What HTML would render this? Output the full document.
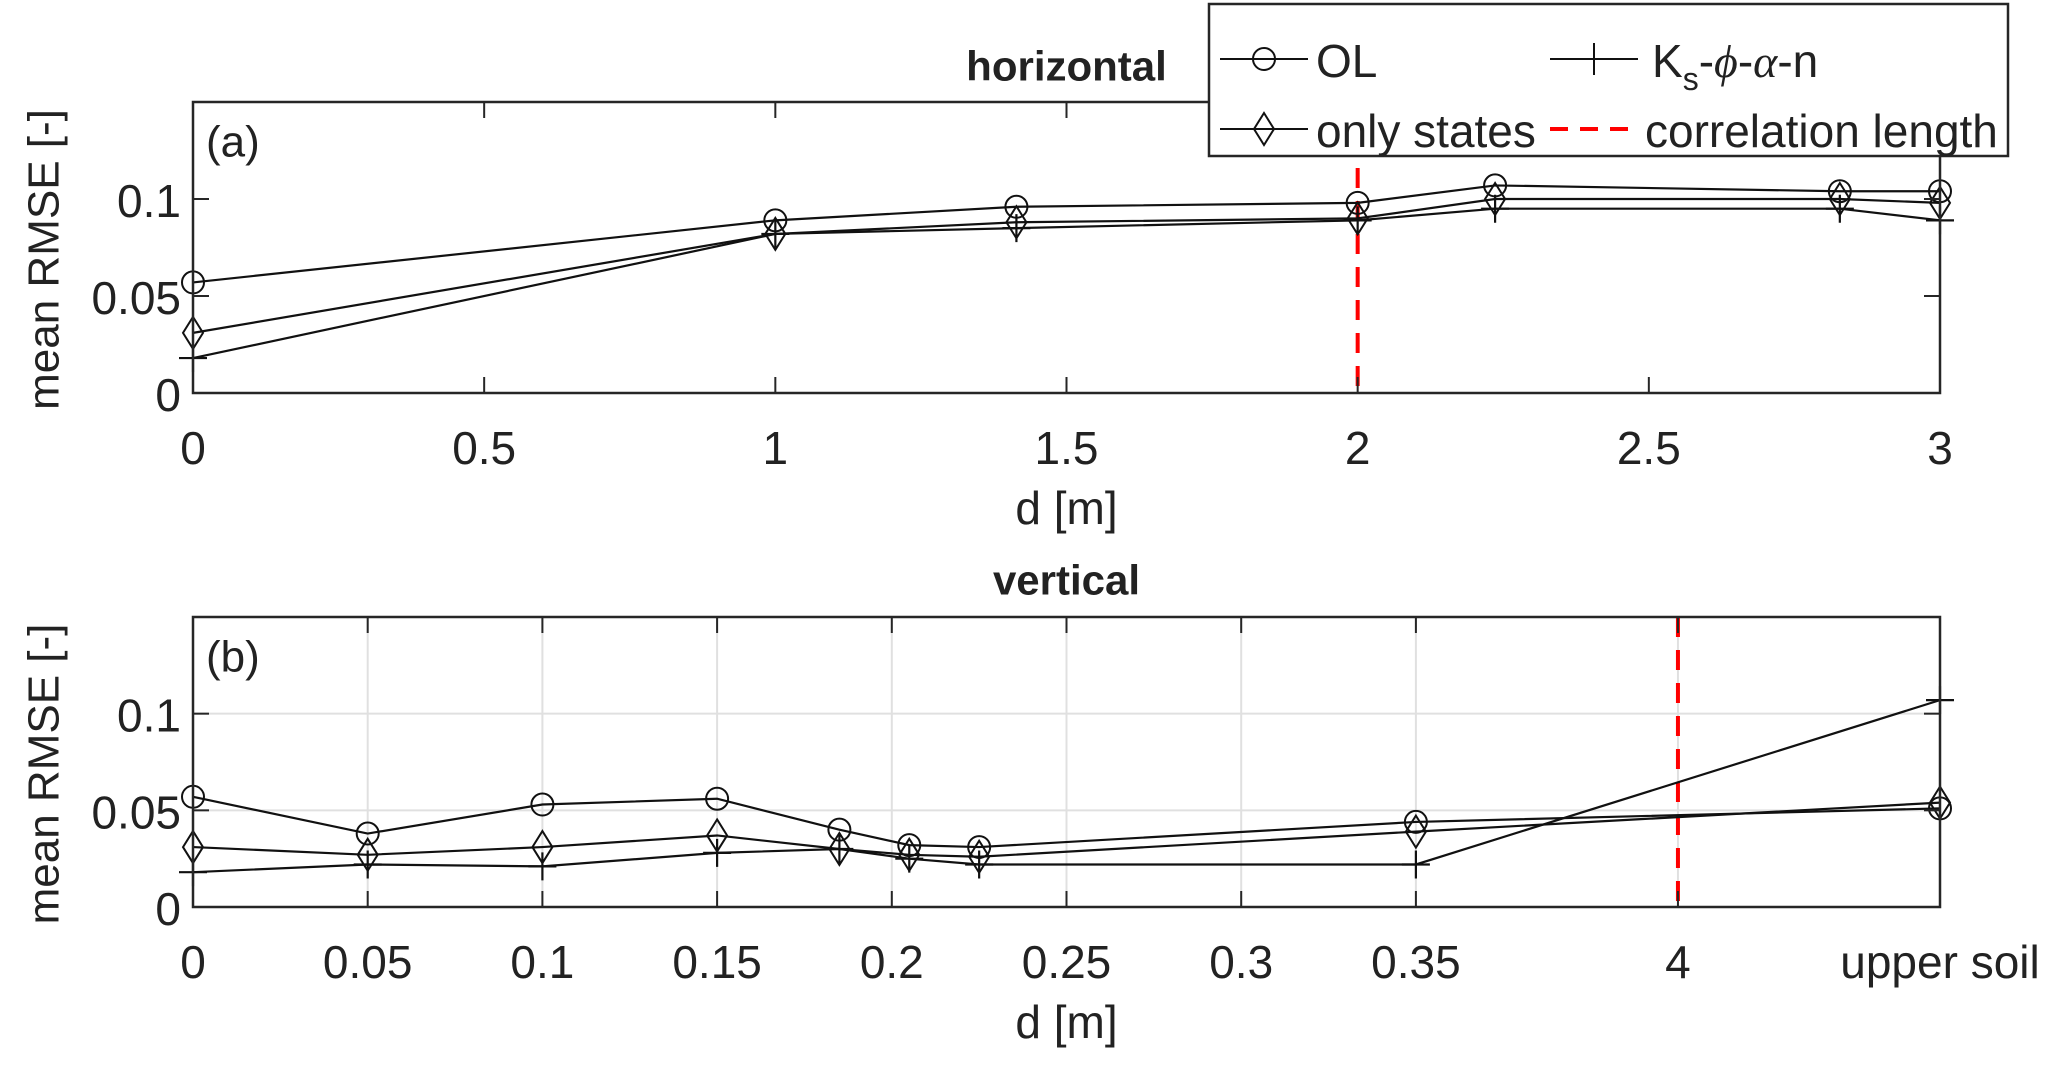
<!DOCTYPE html>
<html><head><meta charset="utf-8"><style>
html,body{margin:0;padding:0;background:#fff;}
svg{display:block;font-family:"Liberation Sans",sans-serif;}
</style></head><body>
<svg id="chart" width="2067" height="1067" viewBox="0 0 2067 1067" xmlns="http://www.w3.org/2000/svg"></svg>
<script>
// ---- panel (a) data ----
const aX = [0, 1, 1.414, 2, 2.236, 2.828, 3];
const aOL = [0.057, 0.089, 0.096, 0.098, 0.107, 0.104, 0.104];
const aStates = [0.031, 0.082, 0.088, 0.090, 0.100, 0.100, 0.098];
const aKs = [0.018, 0.082, 0.085, 0.089, 0.095, 0.095, 0.089];
const aXTicks = [0, 0.5, 1, 1.5, 2, 2.5, 3];
const aXTickLabels = ["0", "0.5", "1", "1.5", "2", "2.5", "3"];
const aCorr = 2;
// ---- panel (b) data ----
const bX = [0, 0.05, 0.1, 0.15, 0.185, 0.205, 0.225, 0.35, 0.5];
const bOL = [0.057, 0.038, 0.053, 0.056, 0.040, 0.032, 0.031, 0.044, 0.051];
const bStates = [0.031, 0.027, 0.031, 0.037, 0.030, 0.027, 0.026, 0.039, 0.054];
const bKs = [0.018, 0.022, 0.021, 0.028, 0.030, 0.025, 0.022, 0.022, 0.107];
const bXTicks = [0, 0.05, 0.1, 0.15, 0.2, 0.25, 0.3, 0.35, 0.425, 0.5];
const bXTickLabels = ["0", "0.05", "0.1", "0.15", "0.2", "0.25", "0.3", "0.35", "4", "upper soil"];
const bCorr = 0.425;
const yTicks = [0, 0.05, 0.1];
const yTickLabels = ["0", "0.05", "0.1"];

const NS = "http://www.w3.org/2000/svg";
const svg = document.getElementById("chart");
function el(tag, attrs, parent) {
  const e = document.createElementNS(NS, tag);
  for (const k in attrs) e.setAttribute(k, attrs[k]);
  (parent || svg).appendChild(e);
  return e;
}
function txt(s, x, y, size, parent, anchor, weight) {
  const t = el("text", {x: x, y: y, "font-size": size, "text-anchor": anchor || "middle", "dominant-baseline": "central", fill: "#222", "font-weight": weight || "normal"}, parent);
  t.textContent = s;
  return t;
}

function panel(cfg) {
  const g = el("g", {});
  
  
  const L = 193, R = 1940, T = cfg.top, B = cfg.bottom;
  const xs = v => L + (v - cfg.xmin) / (cfg.xmax - cfg.xmin) * (R - L);
  const ys = v => B - v / 0.15 * (B - T);
  if (cfg.grid) {
    cfg.xTicks.forEach(v => {
      const ln = el("line", {x1: xs(v), x2: xs(v), y1: T, y2: B, stroke: "#e0e0e0", "stroke-width": 2}, g);
      
      
    });
    yTicks.forEach(v => {
      const ln = el("line", {x1: L, x2: R, y1: ys(v), y2: ys(v), stroke: "#e0e0e0", "stroke-width": 2}, g);
      
      
    });
  }
  const cl = el("line", {x1: xs(cfg.corr), x2: xs(cfg.corr), y1: T, y2: B, stroke: "#ff0000", "stroke-width": 4, "stroke-dasharray": "20 13"}, g);
  
  
  const series = [[cfg.ks, "plus", "ks-series"], [cfg.st, "diamond", "only-states-series"], [cfg.ol, "circle", "ol-series"]];
  series.forEach(([vals, mk, nm]) => {
    const sg = el("g", {}, g);
    
    
    const pts = vals.map((v, i) => xs(cfg.x[i]) + "," + ys(v)).join(" ");
    el("polyline", {points: pts, fill: "none", stroke: "#111", "stroke-width": 2.2}, sg);
    vals.forEach((v, i) => {
      const cx = xs(cfg.x[i]), cy = ys(v);
      let m;
      if (mk === "circle") m = el("circle", {cx: cx, cy: cy, r: 11, fill: "none", stroke: "#111", "stroke-width": 2}, sg);
      else if (mk === "diamond") m = el("polygon", {points: `${cx},${cy-16} ${cx+10},${cy} ${cx},${cy+16} ${cx-10},${cy}`, fill: "none", stroke: "#111", "stroke-width": 2}, sg);
      else m = el("path", {d: `M${cx-14},${cy}H${cx+14}M${cx},${cy-14}V${cy+14}`, stroke: "#111", "stroke-width": 2.2}, sg);
      
      
    });
  });
  const box = el("rect", {x: L, y: T, width: R - L, height: B - T, fill: "none", stroke: "#262626", "stroke-width": 2.5}, g);
  
  
  cfg.xTicks.forEach((v, i) => {
    el("line", {x1: xs(v), x2: xs(v), y1: B, y2: B - 16, stroke: "#262626", "stroke-width": 2}, g);
    el("line", {x1: xs(v), x2: xs(v), y1: T, y2: T + 16, stroke: "#262626", "stroke-width": 2}, g);
    const t = txt(cfg.xLabels[i], xs(v), cfg.tickY, 46, g);
    
    
  });
  yTicks.forEach((v, i) => {
    el("line", {x1: L, x2: L + 16, y1: ys(v), y2: ys(v), stroke: "#262626", "stroke-width": 2}, g);
    el("line", {x1: R, x2: R - 16, y1: ys(v), y2: ys(v), stroke: "#262626", "stroke-width": 2}, g);
    const t = txt(yTickLabels[i], L - 12, ys(v) + 2, 46, g, "end");
    
    
  });
  const pl = txt(cfg.letter, 206, T + 40, 44, g, "start");
  
  
  const ti = txt(cfg.title, (L + R) / 2, cfg.titleY, 42, g, "middle", "bold");
  
  
  const xl = txt("d [m]", (L + R) / 2, cfg.xlabY, 46, g);
  
  
  const yl = txt("mean RMSE [-]", 0, 0, 44, g);
  yl.setAttribute("transform", `translate(44,${(T + B) / 2 + 12}) rotate(-90)`);
  
  
}

panel({name: "panel-horizontal", top: 102, bottom: 393, xmin: 0, xmax: 3, x: aX, ol: aOL, st: aStates, ks: aKs,
  xTicks: aXTicks, xLabels: aXTickLabels, corr: aCorr, grid: false, letter: "(a)", title: "horizontal",
  titleY: 66, tickY: 448, xlabY: 508});
panel({name: "panel-vertical", top: 617, bottom: 907, xmin: 0, xmax: 0.5, x: bX, ol: bOL, st: bStates, ks: bKs,
  xTicks: bXTicks, xLabels: bXTickLabels, corr: bCorr, grid: true, letter: "(b)", title: "vertical",
  titleY: 580, tickY: 962, xlabY: 1022});

const lg = el("g", {});


el("rect", {x: 1209, y: 4, width: 799, height: 152, fill: "#fff", stroke: "#262626", "stroke-width": 2.5}, lg);
function entry(x, y, kind, nm) {
  const eg = el("g", {}, lg);
  
  
  const cx = x + 44;
  if (kind === "dash") {
    el("line", {x1: x, x2: x + 88, y1: y, y2: y, stroke: "#ff0000", "stroke-width": 4, "stroke-dasharray": "18 12"}, eg);
  } else {
    el("line", {x1: x, x2: x + 88, y1: y, y2: y, stroke: "#111", "stroke-width": 2}, eg);
    if (kind === "circle") el("circle", {cx: cx, cy: y, r: 11, fill: "none", stroke: "#111", "stroke-width": 2}, eg);
    if (kind === "diamond") el("polygon", {points: `${cx},${y-16} ${cx+10},${y} ${cx},${y+16} ${cx-10},${y}`, fill: "none", stroke: "#111", "stroke-width": 2}, eg);
    if (kind === "plus") el("path", {d: `M${cx},${y-16}V${y+16}`, stroke: "#111", "stroke-width": 2}, eg);
  }
  return eg;
}
entry(1220, 59, "circle", "legend-entry-ol");
txt("OL", 1316, 61, 46, lg, "start");
entry(1550, 59, "plus", "legend-entry-ks");
const ks = el("text", {x: 1652, y: 61, "font-size": 46, "dominant-baseline": "central", fill: "#222"}, lg);
ks.innerHTML = 'K<tspan font-size="32" dy="18">s</tspan><tspan dy="-18">-</tspan><tspan font-style="italic" font-family="Liberation Serif, serif">ϕ</tspan>-<tspan font-style="italic" font-family="Liberation Serif, serif">α</tspan>-n';
entry(1220, 129, "diamond", "legend-entry-only-states");
txt("only states", 1316, 131, 46, lg, "start");
entry(1550, 129, "dash", "legend-entry-correlation-length");
txt("correlation length", 1645, 131, 46, lg, "start");
</script>
</body></html>
